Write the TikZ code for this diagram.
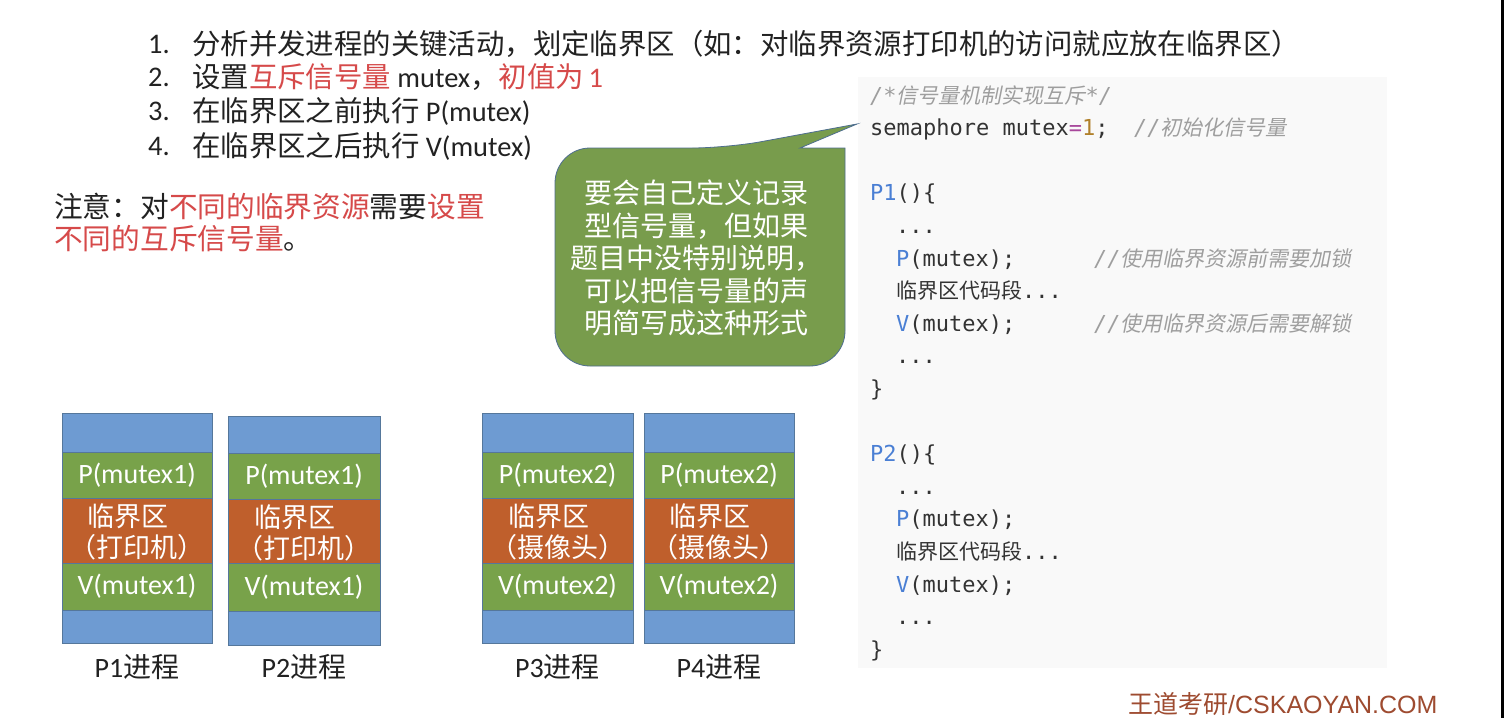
\documentclass[tikz,border=0pt]{standalone}
\usepackage{fontspec}
\setmainfont{Noto Sans CJK SC}
\newfontfamily\cjk{Noto Sans CJK SC}
\newfontfamily\cjkit[FakeSlant=0.2]{Noto Sans CJK SC}
\newfontfamily\lat{Carlito}
\newfontfamily\mono{DejaVu Sans Mono}
\newfontfamily\arial{Liberation Sans}
\definecolor{txt}{HTML}{222222}
\definecolor{myred}{HTML}{D64A4A}
\definecolor{pblue}{HTML}{6E9BD2}
\definecolor{pgreen}{HTML}{78A24A}
\definecolor{pbrown}{HTML}{BF5F2C}
\definecolor{pborder}{HTML}{55779B}
\definecolor{bubblefill}{HTML}{789C4C}
\definecolor{bubbleline}{HTML}{4E6E8E}
\definecolor{codebg}{HTML}{F9F9F9}
\definecolor{codetxt}{HTML}{333333}
\definecolor{kw}{HTML}{4A7FD4}
\definecolor{cmt}{HTML}{9E9E9E}
\definecolor{num}{HTML}{B0802A}
\definecolor{eqc}{HTML}{A8479B}
\definecolor{wm}{HTML}{9E4B30}
\tikzset{
  listtext/.style={anchor=west, inner sep=0pt, text=txt, font=\fontsize{28.4}{34}\selectfont},
  notetext/.style={anchor=west, inner sep=0pt, text=txt, font=\fontsize{28.7}{34}\selectfont},
  codeline/.style={anchor=base west, inner sep=0pt, text=codetxt, font=\mono\fontsize{22}{26}\selectfont},
  cmtline/.style={anchor=base west, inner sep=0pt, text=cmt, font=\mono\itshape\fontsize{22}{26}\selectfont},
  bandtext/.style={inner sep=0pt, text=white, font=\lat\fontsize{28}{34}\selectfont},
  crittext/.style={inner sep=0pt, text=white, font=\cjk\fontsize{27}{32}\selectfont},
  proclabel/.style={inner sep=0pt, text=txt, font=\fontsize{28}{34}\selectfont},
  band/.style={draw=pborder, line width=0.6pt},
}
\newcommand{\cz}[1]{{\cjk\fontsize{21}{26}\selectfont #1}}
\newcommand{\czi}[1]{{\cjkit\fontsize{21}{26}\selectfont #1}}
\begin{document}
\begin{tikzpicture}[x=1pt,y=-1pt]
\useasboundingbox (0,0) rectangle (1504,718);
\fill[white] (0,0) rectangle (1504,718);
\fill[black] (1501,0) rectangle (1504,718);

% numbered list
\node[listtext] (n1) at (148,44) {\lat 1.};
\node[listtext] (l1) at (192,44) {分析并发进程的关键活动，划定临界区（如：对临界资源打印机的访问就应放在临界区）};
\node[listtext] (n2) at (148,77) {\lat 2.};
\node[listtext] (l2) at (192,77) {设置\textcolor{myred}{互斥信号量}{\lat\ mutex}，\textcolor{myred}{初值为{\lat\,1}}};
\node[listtext] (n3) at (148,111) {\lat 3.};
\node[listtext] (l3) at (192,111) {在临界区之前执行{\lat\ P(mutex)}};
\node[listtext] (n4) at (148,146) {\lat 4.};
\node[listtext] (l4) at (192,146) {在临界区之后执行{\lat\ V(mutex)}};

% note
\node[notetext] (note1) at (54,207) {注意：对\textcolor{myred}{不同的临界资源}需要\textcolor{myred}{设置}};
\node[notetext] (note2) at (54,239) {\textcolor{myred}{不同的互斥信号量}。};

% code background
\fill[codebg] (858,77) rectangle (1387,668);

% code
\node[codeline,text=cmt] (c0) at (870,103) {\itshape /*\czi{信号量机制实现互斥}*/};
\node[codeline] (c1) at (870,135.6) {semaphore mutex\textcolor{eqc}{=}\textcolor{num}{1};};
\node[cmtline] (c1c) at (1134,135.6) {//\czi{初始化信号量}};
\node[codeline] (c3) at (870,200.8) {\textcolor{kw}{P1}()\{};
\node[codeline] (c4) at (896,233.4) {...};
\node[codeline] (c5) at (896,266) {\textcolor{kw}{P}(mutex);};
\node[cmtline] (c5c) at (1094,266) {//\czi{使用临界资源前需要加锁}};
\node[codeline] (c6) at (896,298.6) {\cz{临界区代码段}...};
\node[codeline] (c7) at (896,331.2) {\textcolor{kw}{V}(mutex);};
\node[cmtline] (c7c) at (1094,331.2) {//\czi{使用临界资源后需要解锁}};
\node[codeline] (c8) at (896,363.8) {...};
\node[codeline] (c9) at (870,396.4) {\}};
\node[codeline] (c11) at (870,461.6) {\textcolor{kw}{P2}()\{};
\node[codeline] (c12) at (896,494.2) {...};
\node[codeline] (c13) at (896,526.8) {\textcolor{kw}{P}(mutex);};
\node[codeline] (c14) at (896,559.4) {\cz{临界区代码段}...};
\node[codeline] (c15) at (896,592) {\textcolor{kw}{V}(mutex);};
\node[codeline] (c16) at (896,624.6) {...};
\node[codeline] (c17) at (870,657.2) {\}};

% callout bubble
\filldraw[fill=bubblefill, draw=bubbleline, line width=0.8pt]
  (555,257) [rounded corners=35pt] -- (555,148) -- (727,148) [sharp corners] -- (857,124) -- (800,148) -- (845,148)
  [rounded corners=35pt] -- (845,366) -- (555,366) -- cycle;
\node[inner sep=0pt, text=white, align=center, font=\cjk\fontsize{28}{32.5}\selectfont] (bubbletext) at (696,258)
  {要会自己定义记录\\型信号量，但如果\\题目中没特别说明，\\可以把信号量的声\\明简写成这种形式};

% processes
\foreach \n/\lab/\xa/\xb/\ya/\yb/\yc/\yd/\ye/\yf/\m/\res in {
  p1/P1/62/212/413/452/498/563/610/643/1/打印机,
  p2/P2/228/380/416/453/499/563/611/645/1/打印机,
  p3/P3/482/633/413/452/498/563/610/643/2/摄像头,
  p4/P4/644/794/413/452/498/563/610/643/2/摄像头}{
  \filldraw[band, fill=pblue] (\xa,\ya) rectangle (\xb,\yb);
  \filldraw[band, fill=pgreen] (\xa,\yb) rectangle (\xb,\yc);
  \filldraw[band, fill=pbrown] (\xa,\yc) rectangle (\xb,\yd);
  \filldraw[band, fill=pgreen] (\xa,\yd) rectangle (\xb,\ye);
  \filldraw[band, fill=pblue] (\xa,\ye) rectangle (\xb,\yf);
  \node[bandtext] (\n-p) at ({(\xa+\xb)/2},{(\yb+\yc)/2}) {P(mutex\m)};
  \node[crittext] (\n-c1) at ({(\xa+\xb)/2-9},{\yc+18}) {临界区};
  \node[crittext] (\n-c2) at ({(\xa+\xb)/2},{\yc+49}) {（\res）};
  \node[bandtext] (\n-v) at ({(\xa+\xb)/2},{(\yd+\ye)/2}) {V(mutex\m)};
  \node[proclabel] (\n-lab) at ({(\xa+\xb)/2},667) {{\lat\lab}进程};
}

% watermark
\node[anchor=west, inner sep=0pt, text=wm, font=\fontsize{25}{30}\selectfont] (wm) at (1128,704) {{\cjk 王道考研}{\arial /CSKAOYAN.COM}};
\end{tikzpicture}
\end{document}
